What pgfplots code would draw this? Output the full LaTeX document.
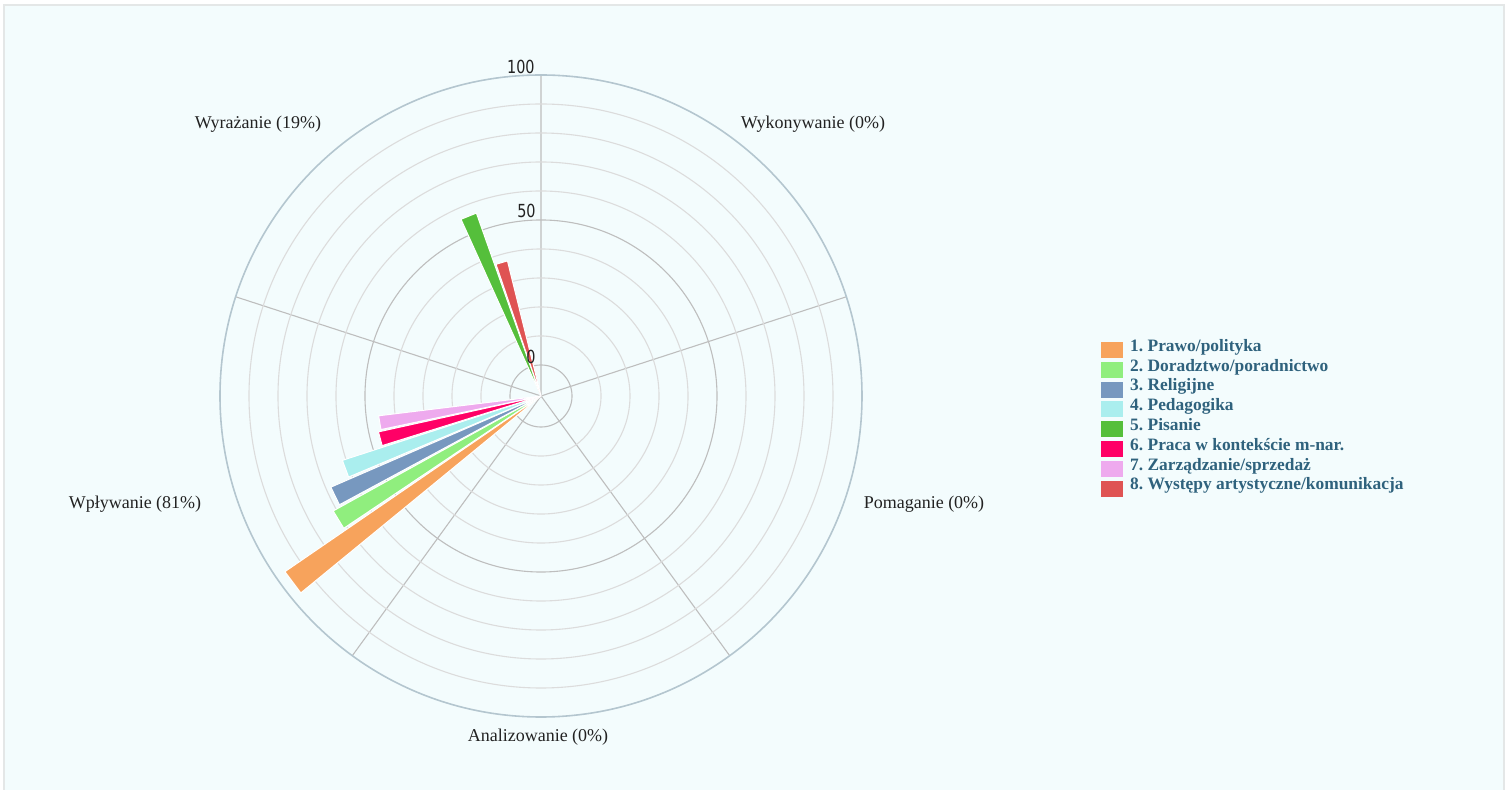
\documentclass[border=0pt]{standalone}
\usepackage{fontspec}
\setmainfont{Liberation Serif}
\newfontfamily\numfont[FakeStretch=0.8]{DejaVu Sans}
\usepackage{pgfplots}
\pgfplotsset{compat=1.18}
\usepgfplotslibrary{polar}
\usetikzlibrary{backgrounds,calc}
\definecolor{bgc}{HTML}{F3FCFD}
\definecolor{framec}{HTML}{E4E7E7}
\definecolor{gridmaj}{HTML}{BEBEBE}
\definecolor{gridmin}{HTML}{DCDCDC}
\definecolor{outerc}{HTML}{B4C6CF}
\definecolor{legtext}{HTML}{2F627D}
\definecolor{labtext}{HTML}{222222}
\definecolor{c1}{HTML}{F7A35C}
\definecolor{c2}{HTML}{90EE7E}
\definecolor{c3}{HTML}{7798BF}
\definecolor{c4}{HTML}{AAEEEE}
\definecolor{c5}{HTML}{55BF3B}
\definecolor{c6}{HTML}{FF0066}
\definecolor{c7}{HTML}{EEAAEE}
\definecolor{c8}{HTML}{DF5353}
\begin{document}
\frenchspacing
\begin{tikzpicture}
\begin{polaraxis}[
  width=321pt, height=321pt, scale only axis,
  ymin=0, ymax=110.7,
  xtick={18,90,162,234,306}, xticklabels={},
  ytick={10.7,60.7},
  minor ytick={20.7,30.7,40.7,50.7,70.7,80.7,90.7,100.7},
  yticklabels={},
  grid=both,
  major grid style={draw=gridmaj, line width=0.55pt},
  minor grid style={draw=gridmin, line width=0.55pt},
  x axis line style={draw=outerc, line width=0.8pt},
  y axis line style={draw=none},
  tick style={draw=none},
  legend cell align=left,
  legend image code/.code={\path[#1, draw=none] (0pt,-5pt) rectangle (11pt,3pt);},
  legend style={at={(axis description cs:1.372,0.5907)}, anchor=north west,
    draw=none, fill=none, inner sep=0pt, text=legtext,
    font=\bfseries\frenchspacing\fontsize{8.7}{9.8}\selectfont, row sep=0pt,
    nodes={inner sep=0pt, text height=6.6pt, text depth=3.2pt},
    /tikz/every odd column/.append style={column sep=3.5pt}},
  bar/.style={fill=#1, draw=white, line width=0.5pt},
]
% Wplywanie sector (centre 198 deg)
\addplot[bar=c1] table[y expr=\thisrow{r}+10.7] {
a r
0 -10.7
214.45 96.4
219.35 96.4
} -- cycle;
\addlegendentry{1. Prawo/polityka}
\addplot[bar=c2] table[y expr=\thisrow{r}+10.7] {
a r
0 -10.7
208.95 71.2
213.85 71.2
} -- cycle;
\addlegendentry{2. Doradztwo/poradnictwo}
\addplot[bar=c3] table[y expr=\thisrow{r}+10.7] {
a r
0 -10.7
203.45 68.3
208.35 68.3
} -- cycle;
\addlegendentry{3. Religijne}
\addplot[bar=c4] table[y expr=\thisrow{r}+10.7] {
a r
0 -10.7
197.95 61.3
202.85 61.3
} -- cycle;
\addlegendentry{4. Pedagogika}
% Wyrazanie sector (centre 126 deg)
\addplot[bar=c5] table[y expr=\thisrow{r}+10.7] {
a r
0 -10.7
109.45 56.2
114.35 56.2
} -- cycle;
\addlegendentry{5. Pisanie}
\addplot[bar=c6] table[y expr=\thisrow{r}+10.7] {
a r
0 -10.7
192.45 46.7
197.35 46.7
} -- cycle;
\addlegendentry{6. Praca w kontekście m-nar.}
\addplot[bar=c7] table[y expr=\thisrow{r}+10.7] {
a r
0 -10.7
186.95 45.7
191.85 45.7
} -- cycle;
\addlegendentry{7. Zarządzanie/sprzedaż}
\addplot[bar=c8] table[y expr=\thisrow{r}+10.7] {
a r
0 -10.7
103.95 37.3
108.85 37.3
} -- cycle;
\addlegendentry{8. Występy artystyczne/komunikacja}
\coordinate (C) at (axis cs:0,0);
\end{polaraxis}
\begin{scope}[on background layer]
\fill[white] ($(C)+(-270.5pt,198pt)$) rectangle ($(C)+(484.5pt,-197pt)$);
\fill[bgc] ($(C)+(-268.5pt,195.5pt)$) rectangle ($(C)+(481.5pt,-197pt)$);
\draw[framec, line width=0.6pt] ($(C)+(-268.5pt,-197pt)$) -- ($(C)+(-268.5pt,195.5pt)$) -- ($(C)+(481.5pt,195.5pt)$) -- ($(C)+(481.5pt,-197pt)$);
\end{scope}
\begin{scope}[every node/.style={inner sep=0pt}]
\node[anchor=base east, font=\numfont\fontsize{9}{9}\selectfont, text=labtext] at ($(C)+(-3pt,161.3pt)$) {100};
\node[anchor=base east, font=\numfont\fontsize{9}{9}\selectfont, text=labtext] at ($(C)+(-2.5pt,89pt)$) {50};
\node[anchor=base east, font=\numfont\fontsize{9}{9}\selectfont, text=labtext] at ($(C)+(-2.5pt,16.3pt)$) {0};
\node[anchor=base, font=\fontsize{9}{9}\selectfont, text=labtext] at ($(C)+(136pt,133.5pt)$) {Wykonywanie (0\%)};
\node[anchor=base, font=\fontsize{9}{9}\selectfont, text=labtext] at ($(C)+(191.5pt,-56.5pt)$) {Pomaganie (0\%)};
\node[anchor=base, font=\fontsize{9}{9}\selectfont, text=labtext] at ($(C)+(-1.5pt,-173pt)$) {Analizowanie (0\%)};
\node[anchor=base, font=\fontsize{9}{9}\selectfont, text=labtext] at ($(C)+(-203pt,-56.5pt)$) {Wpływanie (81\%)};
\node[anchor=base, font=\fontsize{9}{9}\selectfont, text=labtext] at ($(C)+(-141.5pt,133.5pt)$) {Wyrażanie (19\%)};
\end{scope}
\end{tikzpicture}
\end{document}
